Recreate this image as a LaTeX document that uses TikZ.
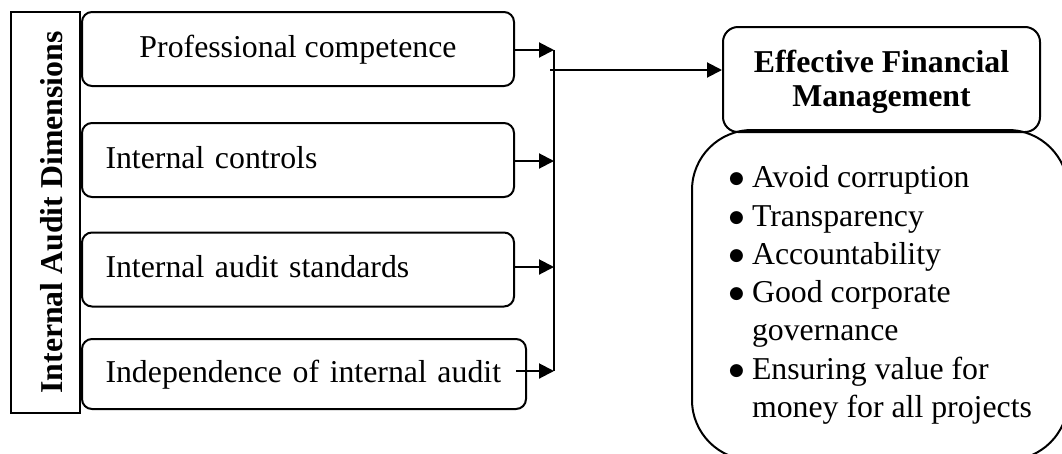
\documentclass[tikz,border=0pt]{standalone}
\usepackage{fontspec}
\setmainfont{Liberation Serif}
\newfontfamily\dotfont{DejaVu Sans}
\usetikzlibrary{arrows.meta,calc}

\begin{document}
\begin{tikzpicture}[x=1pt, y=-1pt, line width=2pt,
    font=\fontsize{31.8}{38.3}\selectfont,
    dimbox/.style={draw, rounded corners=10pt, minimum height=74pt, inner ysep=0pt, inner xsep=23.5pt, text height=20pt, text depth=4pt},
    outbox/.style={draw, rounded corners=#1, inner sep=0pt},
    feed/.style={-{Triangle[length=15pt,width=15pt]}}]
    \useasboundingbox (0,0) rectangle (1062,453);

    \def\feed#1#2{%
        \draw[feed] (#1.east |- #2) -- (#2);
    }
    \def\dot{\makebox[24pt][l]{\hspace{1pt}\raisebox{4pt}{\dotfont\fontsize{17}{17}\selectfont ●}}}

    \node[draw, rotate=90, minimum width=401pt, minimum height=69pt, inner sep=0pt, text height=33pt, text depth=0pt,
        font=\bfseries\fontsize{31.8}{38.3}\selectfont] (dims) at (45.5,212.5) {Internal Audit Dimensions};

    \node[dimbox, minimum width=432pt] (b1) at (298,49) {Professional competence};
    \node[dimbox, minimum width=432pt, text width=385pt, align=left] (b2) at (298,160) {Internal controls};
    \node[dimbox, minimum width=432pt, text width=385pt, align=left] (b3) at (298,269.5) {Internal audit standards};
    \node[dimbox, minimum width=444pt, minimum height=70pt, text width=397pt, align=left] (b4) at (304,374) {Independence of internal audit};

    \coordinate (j1) at (554,50);
    \coordinate (j2) at (554,161);
    \coordinate (j3) at (554,267);
    \coordinate (j4) at (554,371);

    \feed{b1}{j1}
    \feed{b2}{j2}
    \feed{b3}{j3}
    \draw[feed] ($(b4.east |- j4)+(-11,0)$) -- (j4);
    \draw (j1) -- (j4);

    \node[outbox=60pt, minimum width=376pt, minimum height=330pt] (goals) at (880,295) {%
        \begin{tabular}{@{}l@{}l@{}}
            \dot & Avoid corruption\\
            \dot & Transparency\\
            \dot & Accountability\\
            \dot & Good corporate\\
            & governance\\
            \dot & Ensuring value for\\
            & money for all projects
        \end{tabular}};
    \node[outbox=15pt, minimum width=317pt, minimum height=105pt, align=center,
        font=\bfseries\fontsize{31.8}{34}\selectfont] (efm) at (881.5,79.5) {\rule{0pt}{28pt}Effective Financial\\Management};

    \coordinate (split) at (550,70);
    \draw[feed] (split) -- (efm.west |- split);
\end{tikzpicture}
\end{document}
